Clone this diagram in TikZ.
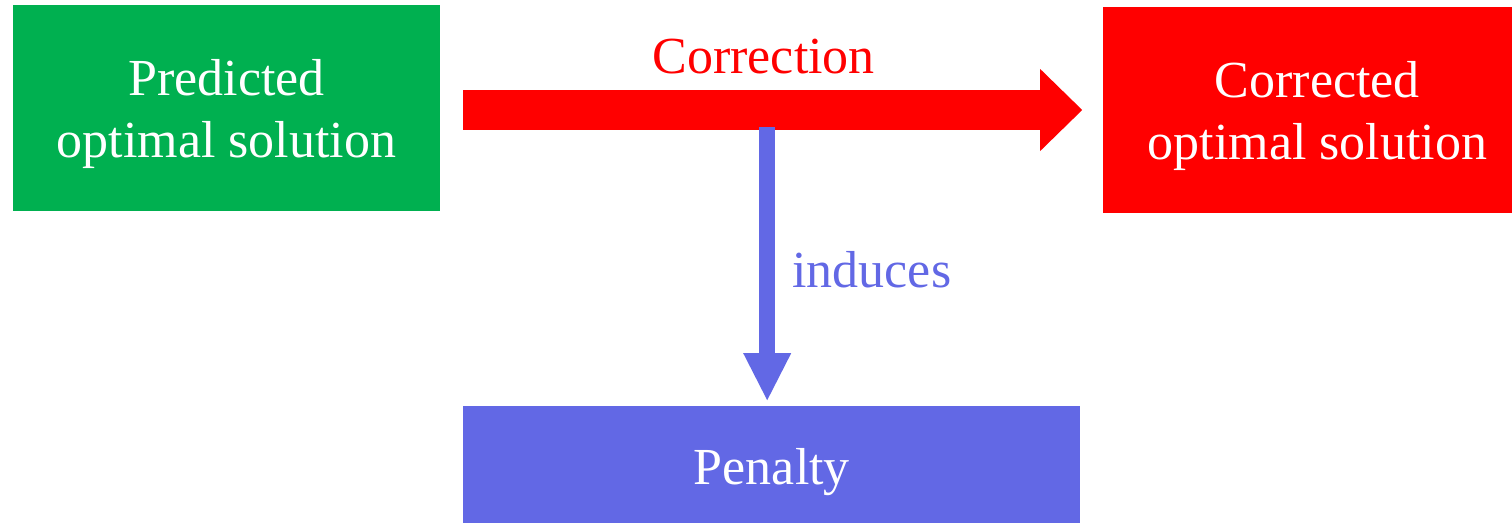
\documentclass[tikz,border=0pt]{standalone}
\usepackage{fontspec}
\setmainfont{Liberation Serif}
\usetikzlibrary{positioning,arrows.meta,calc}
\definecolor{predgreen}{RGB}{0,176,80}
\definecolor{corrred}{RGB}{255,0,0}
\definecolor{penblue}{RGB}{98,104,229}

\begin{document}
\begin{tikzpicture}[
    box/.style={rectangle, align=center, text=white, inner sep=0pt,
                font=\fontsize{52}{62}\selectfont},
    predbox/.style={box, fill=predgreen, text depth=0pt, minimum width=427pt, minimum height=206pt},
    corrbox/.style={box, fill=corrred, text depth=0pt, minimum width=428pt, minimum height=206pt},
    penbox/.style={box, fill=penblue, minimum width=617pt, minimum height=132pt},
    corrarr/.style={-{Triangle[length=42pt, width=82pt, line width=0pt]}, line width=40pt, draw=corrred},
    penarr/.style={-{Triangle[length=47pt, width=48pt, line width=0pt]}, line width=16pt, draw=penblue},
    lbl/.style={font=\fontsize{52}{62}\selectfont, inner sep=0pt}]
  \useasboundingbox (0,0) rectangle (1512pt,-522pt);
  \node[predbox] (pred) at (226.5pt,-108pt) {Predicted\\optimal solution};
  \node[corrbox, right=663pt of pred, yshift=-2pt] (corr) {Corrected\\optimal solution};
  \node[penbox, below right=195pt and 23pt of pred.south east] (pen) {Penalty};
  % correction arrow
  \draw[corrarr, shorten <=23pt, shorten >=21pt] (pred.east |- corr.west) -- (corr.west)
    coordinate[pos=0.5] (fork);
  \node[lbl, text=corrred, anchor=base] (corrlbl) at ([xshift=-8pt, yshift=37pt]fork) {Correction};
  % penalty arrow
  \coordinate (drop) at ([xshift=-4.5pt]fork);
  \draw[penarr, shorten >=6pt] ([yshift=-17pt]drop) -- (drop |- pen.north);
  \node[lbl, text=penblue, anchor=base west] (induceslbl) at ([xshift=25pt, yshift=-177pt]drop) {induces};
\end{tikzpicture}
\end{document}
